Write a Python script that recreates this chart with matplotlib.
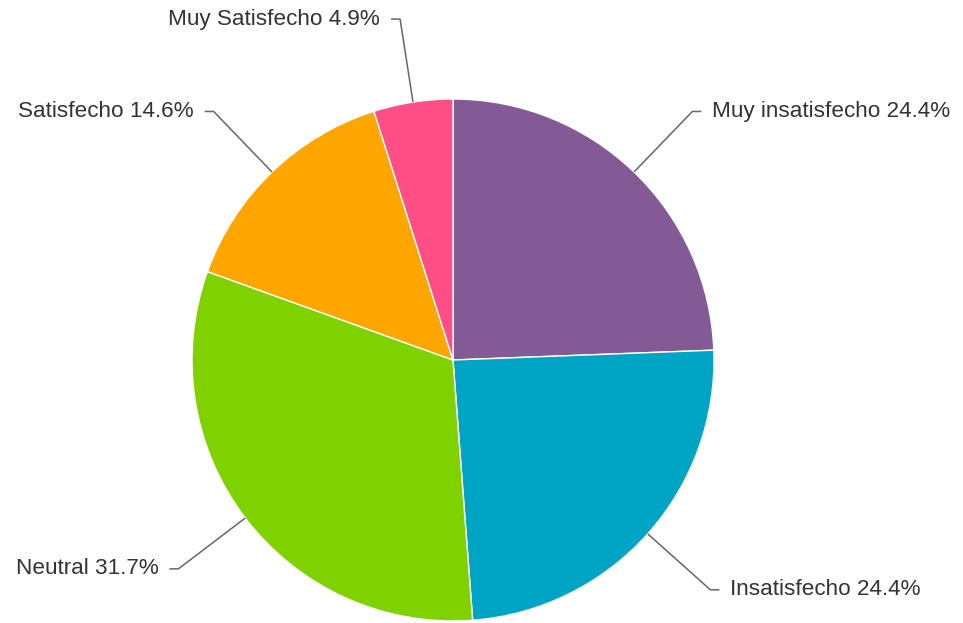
import matplotlib.pyplot as plt
import numpy as np

# Data
labels = ["Muy insatisfecho", "Insatisfecho", "Neutral", "Satisfecho", "Muy Satisfecho"]
shares = [24.4, 24.4, 31.7, 14.6, 4.9]
colors = ["#845A96", "#00A5C6", "#7FD200", "#FFA500", "#FF4D85"]

plt.rcParams["font.family"] = ["Liberation Sans", "DejaVu Sans"]

W, H = 963, 623
fig = plt.figure(figsize=(W / 100, H / 100), dpi=100)
ax = fig.add_axes([0, 0, 1, 1])

cx, cy, r = 453, H - 360, 261
wedges, _ = ax.pie(shares, colors=colors, startangle=90, counterclock=False,
                   center=(cx, cy), radius=r,
                   wedgeprops=dict(edgecolor="white", linewidth=1))

ax.set_xlim(0, W)
ax.set_ylim(0, H)
ax.set_aspect("equal")
ax.axis("off")

# Leader lines and labels
for w, name, val in zip(wedges, labels, shares):
    ang = np.deg2rad((w.theta1 + w.theta2) / 2)
    c, s = np.cos(ang), np.sin(ang)
    x0, y0 = cx + r * c, cy + r * s
    x1, y1 = cx + 345 * c, cy + 345 * s
    side = 1 if c >= 0 else -1
    x2 = x1 + 9 * side
    ax.plot([x0, x1, x2], [y0, y1, y1], color="#666666", lw=1.1,
            solid_capstyle="butt", clip_on=False)
    ax.text(x2 + 11 * side, y1, f"{name} {val}%", fontsize=16.2, color="#333333",
            ha="left" if side > 0 else "right", va="center")

fig.savefig("out.png", dpi=100)
